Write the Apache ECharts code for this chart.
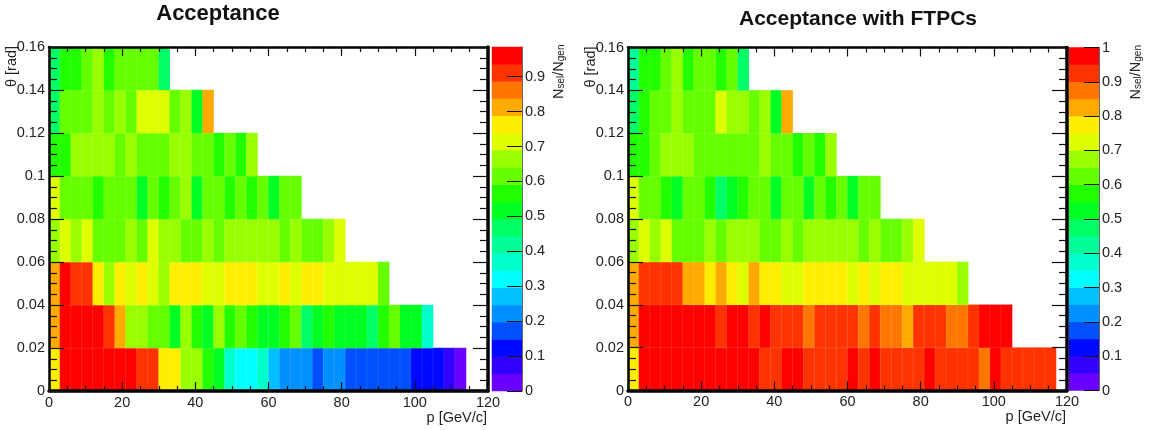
<!DOCTYPE html>
<html><head><meta charset="utf-8">
<style>html,body{margin:0;padding:0;background:#fff}#c{width:1151px;height:430px}</style>
<script src="https://cdn.jsdelivr.net/npm/echarts@6/dist/echarts.min.js"></script>
</head><body><div id="c"></div>
<script>
const pBins = Array.from({length:40},(_,i)=>String(i*3));
const thetaBins = ['0','0.02','0.04','0.06','0.08','0.1','0.12','0.14'];
const paletteLevels = [.025,.075,.125,.175,.225,.275,.325,.375,.425,.475,.525,.575,.625,.675,.725,.775,.825,.875,.925,.975];
const paletteColors = ['#6a00ff','#3300ff','#0008ff','#0050ff','#0090ff','#00c0ff','#00ffff','#00ffcc','#00ff99','#00ff66','#00ff22','#22ff00','#66ff00','#99ff00','#ddff00','#ffee00','#ffaa00','#ff7700','#ff3300','#ff0000'];
const colorbarTicks = [0,.1,.2,.3,.4,.5,.6,.7,.8,.9];
const colorbarTicksFull = [0,.1,.2,.3,.4,.5,.6,.7,.8,.9,1];

// Acceptance: one array per theta bin, lowest theta first, one value per 3 GeV/c bin
const accRow0 = [.775,.975,.975,.975,.975,.975,.975,.975,.925,.925,.775,.775,.675,.675,.575,.525,.375,.325,.325,.375,.275,.225,.225,.225,.175,.225,.225,.175,.175,.175,.175,.175,.175,.125,.125,.125,.075,.025];
const accRow1 = [.825,.975,.975,.975,.975,.925,.825,.675,.675,.625,.625,.525,.675,.575,.525,.675,.575,.625,.575,.525,.525,.575,.625,.475,.525,.575,.525,.525,.525,.475,.575,.625,.525,.525,.375];
const accRow2 = [.825,.975,.925,.925,.775,.675,.775,.725,.775,.725,.675,.775,.775,.775,.725,.725,.775,.775,.775,.725,.725,.775,.725,.775,.775,.725,.725,.725,.725,.725,.625];
const accRow3 = [.675,.725,.675,.725,.625,.625,.625,.675,.625,.725,.675,.675,.625,.625,.675,.625,.675,.675,.675,.675,.675,.625,.675,.625,.625,.675,.725];
const accRow4 = [.725,.625,.625,.625,.575,.625,.625,.625,.525,.625,.575,.625,.675,.525,.625,.625,.575,.625,.575,.625,.525,.625,.625];
const accRow5 = [.575,.575,.675,.675,.675,.675,.625,.675,.625,.625,.625,.675,.675,.625,.625,.575,.625,.575,.675];
const accRow6 = [.475,.625,.625,.625,.675,.625,.675,.625,.725,.725,.725,.625,.675,.525,.825];
const accRow7 = [.475,.575,.575,.625,.675,.575,.625,.625,.625,.625,.475];

// Acceptance with FTPCs
const ftpRow0 = [.775,.975,.975,.975,.975,.975,.975,.975,.975,.975,.975,.975,.925,.925,.975,.975,.925,.925,.925,.925,.975,.925,.975,.925,.925,.925,.925,.975,.925,.925,.925,.925,.875,.975,.925,.925,.925,.925,.925];
const ftpRow1 = [.825,.975,.975,.975,.975,.975,.975,.975,.925,.975,.975,.925,.975,.925,.925,.925,.875,.925,.925,.925,.925,.875,.925,.875,.875,.825,.925,.925,.925,.875,.875,.925,.975,.975,.975];
const ftpRow2 = [.825,.925,.925,.925,.925,.825,.825,.775,.825,.775,.725,.825,.775,.775,.725,.725,.775,.775,.775,.775,.725,.775,.725,.775,.775,.725,.725,.725,.725,.725,.675];
const ftpRow3 = [.675,.725,.675,.725,.625,.625,.625,.675,.625,.675,.675,.675,.625,.625,.675,.625,.675,.675,.675,.675,.675,.625,.675,.625,.625,.675,.725];
const ftpRow4 = [.725,.625,.625,.575,.525,.625,.625,.575,.475,.525,.575,.625,.625,.525,.625,.625,.525,.625,.575,.625,.525,.625,.625];
const ftpRow5 = [.575,.575,.625,.675,.675,.675,.625,.625,.625,.625,.625,.625,.675,.625,.625,.575,.625,.575,.675];
const ftpRow6 = [.475,.575,.625,.625,.675,.625,.625,.625,.725,.675,.675,.625,.675,.525,.825];
const ftpRow7 = [.425,.575,.575,.625,.675,.575,.625,.625,.575,.625,.475];

const accRows = [accRow0,accRow1,accRow2,accRow3,accRow4,accRow5,accRow6,accRow7];
const ftpRows = [ftpRow0,ftpRow1,ftpRow2,ftpRow3,ftpRow4,ftpRow5,ftpRow6,ftpRow7];

const FONT = '"Liberation Sans",Arial,sans-serif';
const TXT = '#222';
const cells = rows => rows.flatMap((r,j)=>r.map((v,i)=>[i,j,v]));

const option = {
  animation:false, backgroundColor:'#fff',
  title:[
    {text:'Acceptance',left:213,top:-2,textAlign:'center',textStyle:{fontFamily:FONT,fontSize:22,fontWeight:'bold',color:'#111'}},
    {text:'Acceptance with FTPCs',left:853,top:4,textAlign:'center',textStyle:{fontFamily:FONT,fontSize:21,fontWeight:'bold',color:'#111'}}
  ],
  grid:[],xAxis:[],yAxis:[],series:[],visualMap:[],graphic:[]
};

function frameAxisCommon(w){return {z:10,axisLine:{show:true,onZero:false,lineStyle:{color:'#000',width:w}},splitLine:{show:false},minorSplitLine:{show:false}};}

function addPanel(rows,gx,gy,gw,gh,cbx,cbMax,cbTicks,axisTitleX,nselX){
  const g = option.grid.length;
  option.grid.push({left:gx,top:gy,width:gw,height:gh,containLabel:false});
  const xBase = option.xAxis.length, yBase = option.yAxis.length;
  // hidden category axes carry the heatmap
  option.xAxis.push({gridIndex:g,type:'category',data:pBins,show:false,position:'bottom'});
  option.yAxis.push({gridIndex:g,type:'category',data:thetaBins,show:false,position:'left'});
  // visible numeric frame axes
  const xv=(pos,labels,w)=>Object.assign(frameAxisCommon(w),{gridIndex:g,type:'value',position:pos,min:0,max:120,interval:20,
    axisTick:{show:true,inside:true,length:9,lineStyle:{color:'#111',width:1.2}},
    minorTick:{show:true,splitNumber:4,length:5,lineStyle:{color:'#111',width:1.2}},
    axisLabel:{show:labels,margin:4,fontFamily:FONT,fontSize:14.5,color:TXT,showMinLabel:true,showMaxLabel:true,hideOverlap:false,formatter:v=>String(v)}});
  const yv=(pos,labels,w)=>Object.assign(frameAxisCommon(w),{gridIndex:g,type:'value',position:pos,min:0,max:.16,interval:.02,
    axisTick:{show:true,inside:true,length:15,lineStyle:{color:'#111',width:1.2}},
    minorTick:{show:true,splitNumber:4,length:8,lineStyle:{color:'#111',width:1.2}},
    axisLabel:{show:labels,margin:4,fontFamily:FONT,fontSize:14.5,color:TXT,showMinLabel:true,showMaxLabel:true,hideOverlap:false,formatter:v=>String(+v.toFixed(2))}});
  option.xAxis.push(xv('bottom',true,3.5),xv('top',false,2.5));
  option.yAxis.push(yv('left',true,2.5),yv('right',false,3.5));
  option.series.push({type:'heatmap',name:'panel'+g,xAxisIndex:xBase,yAxisIndex:yBase,data:cells(rows),z:1,
    itemStyle:{borderWidth:.4,borderColor:'rgba(255,255,255,.25)'},emphasis:{disabled:true},progressive:0});

  // colour bar
  const cg = option.grid.length;
  option.grid.push({left:cbx,top:gy,width:30,height:gh});
  const cx = option.xAxis.length, cy = option.yAxis.length;
  option.xAxis.push({gridIndex:cg,type:'category',data:['z'],show:false,position:'bottom'});
  option.yAxis.push({gridIndex:cg,type:'category',data:paletteLevels.map(String),show:false,position:'left'});
  option.yAxis.push({gridIndex:cg,type:'value',position:'right',min:0,max:cbMax,z:10,
    axisLine:{show:true,onZero:false,lineStyle:{color:'#666',width:1}},splitLine:{show:false},
    axisTick:{show:true,inside:true,length:15,customValues:cbTicks,lineStyle:{color:'#111',width:1}},
    axisLabel:{show:true,margin:3,fontFamily:FONT,fontSize:14.5,color:TXT,customValues:cbTicks,hideOverlap:false,formatter:v=>String(v)}});
  option.series.push({type:'heatmap',name:'bar'+cg,xAxisIndex:cx,yAxisIndex:cy,data:paletteLevels.map((v,i)=>[0,i,v]),z:1,
    itemStyle:{borderWidth:0},emphasis:{disabled:true},progressive:0});

  const idx=[option.series.length-2,option.series.length-1];
  const pieces=paletteColors.map((c,i)=>({gte:cbMax*i/20,lt:cbMax*(i+1)/20+(i===19?1:0),color:c}));
  option.visualMap.push({type:'piecewise',show:false,seriesIndex:idx,pieces,dimension:2});

  option.graphic.push(
    {type:'text',x:axisTitleX,y:gy+gh+19,style:{text:'p [GeV/c]',fontFamily:FONT,fontSize:14.5,fill:TXT,align:'right',verticalAlign:'top'},z:5},
    {type:'text',x:gx-37,y:gy+40,rotation:Math.PI/2,style:{text:'θ [rad]',fontFamily:FONT,fontSize:14.5,fill:TXT,align:'left',verticalAlign:'middle'},z:5},
    {type:'text',x:nselX,y:gy+52,rotation:Math.PI/2,style:{
      text:'{n|N}{s|sel}{n|/N}{s|gen}',align:'left',verticalAlign:'middle',
      rich:{n:{fontFamily:FONT,fontSize:14.5,fill:TXT,lineHeight:18,verticalAlign:'bottom'},
            s:{fontFamily:FONT,fontSize:10,fill:TXT,lineHeight:10,verticalAlign:'bottom'}}},z:5}
  );
}

addPanel(accRows,49,47,439,344,492,.985,colorbarTicks,487,557);
addPanel(ftpRows,628,47.5,439,343,1069,1,colorbarTicksFull,1066,1134);

const chart = echarts.init(document.getElementById('c'),null,{renderer:'canvas'});
chart.setOption(option);
</script></body></html>
